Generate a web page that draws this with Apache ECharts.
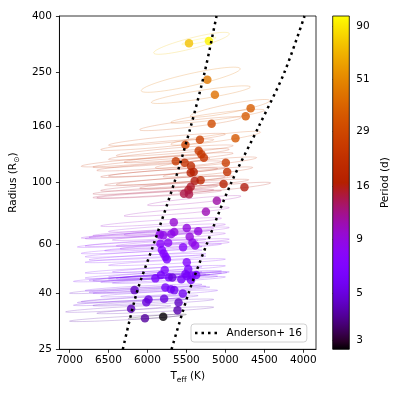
<!DOCTYPE html>
<html>
<head>
<meta charset="utf-8">
<title>Cepheid radius vs Teff</title>
<script src="https://cdn.jsdelivr.net/npm/echarts@6/dist/echarts.min.js"></script>
</head>
<body style="margin:0;background:#fff">
<div id="main" style="width:399px;height:399px"></div>
<script type="text/javascript">
// mean position of each star: Teff (K), radius (Rsun), period (d)
var starTeff = [5467, 5212, 5232, 5135, 4676, 4740, 5177, 4871, 5327, 5513,
    5343, 5309, 5276, 5636, 5522, 4995, 5441, 4977, 5445, 5407,
    5318, 5394, 5024, 4756, 5445, 5474, 5531, 5467, 5110, 5250,
    5662, 5496, 5349, 5656, 5694, 5841, 5796, 5458, 5423, 5388,
    5735, 5834, 5543, 5815, 5793, 5768, 5751, 5496, 5477, 5779,
    5513, 5432, 5375, 5898, 5726, 5681, 5566, 5496, 5441, 6166,
    5770, 5700, 5656, 5786, 5547, 5601, 5614, 5798, 6032, 6210,
    5987, 6015, 5828];
var starRadius = [318.7, 324.9, 235.4, 207.9, 185.6, 173.7, 163.3, 144.7, 143.0, 137.1,
    130.5, 126.6, 123.1, 119.5, 118.1, 118.1, 114.9, 109.3, 108.6, 109.3,
    102.0, 101.4, 98.9, 96.2, 96.7, 94.1, 91.2, 90.8, 86.1, 78.5,
    72.0, 68.6, 66.8, 66.3, 65.3, 64.9, 64.6, 63.8, 60.8, 59.3,
    60.7, 60.2, 58.4, 57.1, 55.5, 54.0, 52.9, 51.6, 48.8, 48.4,
    46.8, 46.2, 46.4, 45.1, 45.5, 45.4, 44.8, 46.0, 44.5, 40.9,
    41.8, 41.2, 40.9, 38.1, 39.8, 36.9, 34.6, 32.8, 32.4, 35.0,
    37.8, 37.0, 46.4];
var starPeriod = [73, 95, 45, 42, 36, 35, 30, 34, 27, 28,
    25, 24, 23, 24, 22, 25, 20, 22, 17, 17,
    19, 16, 17, 16, 15, 15, 14, 14, 11, 10.5,
    9.5, 9, 9, 9, 8.5, 8.5, 8.5, 9, 8.5, 8.5,
    8, 7.5, 7.5, 7, 7, 7, 6.5, 7, 6.5, 6.5,
    6, 6, 6, 6, 6, 5, 6, 6, 6, 4.5,
    6, 6, 5.5, 5, 5.5, 4.5, 4.2, 2.75, 4, 4.3,
    5, 5, 6];

// pulsation loop of each star: hot end, cool end (K), half height (dex)
var loopHot = [5920, 5560, 6080, 5950, 5450, 5700, 6100, 5700, 6500, 6600,
    6400, 6500, 6300, 6850, 6700, 5900, 6650, 5800, 6600, 6500,
    6400, 6550, 6100, 5600, 6600, 6700, 6700, 6650, 6000, 6300,
    6600, 6500, 6300, 6700, 6750, 6850, 6800, 6450, 6400, 6350,
    6800, 6900, 6550, 6850, 6800, 6750, 6800, 6500, 6450, 6800,
    6500, 6400, 6350, 6950, 6750, 6700, 6600, 6500, 6450, 7000,
    6800, 6750, 6700, 6850, 6600, 6700, 6650, 6250, 7000, 7050,
    6900, 6950, 6800];
var loopCool = [4950, 5120, 4810, 4680, 4430, 4500, 4800, 4550, 5000, 5150,
    4900, 4950, 4900, 5300, 5200, 4600, 5050, 4650, 5100, 5000,
    4900, 5000, 4700, 4420, 5050, 5100, 5150, 5050, 4800, 4950,
    5050, 5000, 4950, 5150, 5200, 5350, 5300, 5000, 4950, 4950,
    5250, 5350, 5050, 5300, 5300, 5250, 5250, 5000, 5000, 5300,
    5050, 4980, 4950, 5400, 5250, 5200, 5100, 5050, 5000, 5650,
    5300, 5250, 5200, 5350, 5100, 5150, 5150, 5500, 5550, 5700,
    5500, 5500, 5300];
var loopDex = [0.035, 0.012, 0.04, 0.028, 0.028, 0.022, 0.022, 0.022, 0.02, 0.018,
    0.018, 0.018, 0.016, 0.018, 0.016, 0.018, 0.016, 0.016, 0.015, 0.015,
    0.015, 0.015, 0.015, 0.016, 0.014, 0.014, 0.014, 0.013, 0.016, 0.015,
    0.014, 0.013, 0.013, 0.013, 0.012, 0.012, 0.012, 0.012, 0.012, 0.012,
    0.012, 0.012, 0.012, 0.012, 0.012, 0.011, 0.011, 0.011, 0.011, 0.011,
    0.011, 0.011, 0.011, 0.011, 0.011, 0.011, 0.011, 0.011, 0.011, 0.011,
    0.011, 0.011, 0.011, 0.011, 0.011, 0.011, 0.011, 0.008, 0.011, 0.011,
    0.011, 0.011, 0.011];

// Anderson+ 16 instability strip edges
var edgeRadius = [25, 40, 60, 100, 160, 250, 400];
var blueEdgeTeff = [6316, 6138, 5920, 5656, 5443, 5267, 5114];
var redEdgeTeff = [5691, 5471, 5239, 4925, 4570, 4244, 3985];

var teffTicks = [4000, 4500, 5000, 5500, 6000, 6500, 7000];
var radiusTicks = [25, 40, 60, 100, 160, 250, 400];
var periodTicks = [3, 5, 9, 16, 29, 51, 90];
var periodMin = 2.72, periodMax = 101;

var lg = Math.log10;
var font = 'DejaVu Sans';

// matplotlib gnuplot colormap
function gnuplot(t) {
    var r = Math.sqrt(t), g = t * t * t, b = Math.max(0, Math.sin(2 * Math.PI * t));
    return 'rgb(' + Math.round(255 * r) + ',' + Math.round(255 * g) + ',' + Math.round(255 * b) + ')';
}
var cmap = [], stops = [];
for (var k = 0; k <= 40; k++) {
    cmap.push(gnuplot(k / 40));
    stops.push({offset: 1 - k / 40, color: gnuplot(k / 40)});
}

var points = starTeff.map(function (t, i) {
    return [t, lg(starRadius[i]), lg(starPeriod[i])];
});
var loops = starTeff.map(function (t, i) {
    return [loopHot[i], loopCool[i], lg(starRadius[i]), loopDex[i], lg(starPeriod[i])];
});
var blueEdge = edgeRadius.map(function (r, i) { return [blueEdgeTeff[i], lg(r)]; });
var redEdge = edgeRadius.map(function (r, i) { return [redEdgeTeff[i], lg(r)]; });

function renderLoop(params, api) {
    var y = api.value(2), d = api.value(3);
    var a = api.coord([api.value(0), y - d]);
    var b = api.coord([api.value(1), y + d]);
    var h = Math.abs(api.coord([5000, y])[1] - api.coord([5000, y + d])[1]);
    var dx = b[0] - a[0], dy = b[1] - a[1];
    return {
        type: 'ellipse',
        x: (a[0] + b[0]) / 2,
        y: (a[1] + b[1]) / 2,
        rotation: -Math.atan2(dy, dx),
        shape: {cx: 0, cy: 0, rx: Math.sqrt(dx * dx + dy * dy) / 2, ry: h * 0.55},
        style: {fill: null, stroke: api.visual('color'), lineWidth: 0.9, opacity: 0.24}
    };
}

function renderBar(params, api) {
    var p0 = api.coord([0, lg(periodMax)]);
    var p1 = api.coord([1, lg(periodMin)]);
    return {
        type: 'rect',
        shape: {x: p0[0], y: p0[1], width: p1[0] - p0[0], height: p1[1] - p0[1]},
        style: {
            fill: new echarts.graphic.LinearGradient(0, 0, 0, 1, stops),
            stroke: '#000', lineWidth: 0.8
        }
    };
}

function plain(v) { return String(Math.round(v)); }
function unlog(v) { return String(Math.round(Math.pow(10, v))); }

var tickLabel = {color: '#000', fontFamily: font, fontSize: 10.5};
var nameRich = {
    n: {fontFamily: font, fontSize: 10.5, color: '#000', verticalAlign: 'top'},
    sub: {fontFamily: font, fontSize: 7.5, color: '#000', verticalAlign: 'top', padding: [5, 0, 0, 0]}
};
// four square dots for the legend key
var dotsIcon = 'path://M0,0h2.5v2.5h-2.5z M6.5,0h2.5v2.5h-2.5z M13,0h2.5v2.5h-2.5z M19.5,0h2.5v2.5h-2.5z';

var myChart = echarts.init(document.getElementById('main'));
var option = {
    animation: false,
    textStyle: {fontFamily: font},
    grid: [
        {left: 58, top: 16, width: 258, height: 333.3, show: true, borderColor: '#000', borderWidth: 0.8},
        {left: 332.7, top: 16, width: 16.6, height: 333.3}
    ],
    xAxis: [{
        type: 'value', inverse: true, min: 3838, max: 7129,
        name: '{n|T}{sub|eff}{n| (K)}', nameLocation: 'middle', nameGap: 21,
        nameTextStyle: {rich: nameRich},
        axisLine: {lineStyle: {color: '#000', width: 0.8}},
        axisTick: {length: 3.5, lineStyle: {color: '#000', width: 0.8}, customValues: teffTicks},
        axisLabel: Object.assign({margin: 5.5, customValues: teffTicks, formatter: plain}, tickLabel),
        splitLine: {show: false}
    }, {
        gridIndex: 1, type: 'value', min: 0, max: 1, show: false
    }],
    yAxis: [{
        type: 'value', min: lg(25), max: lg(400),
        name: '{n|Radius (R}{sub|⊙}{n|)}', nameLocation: 'middle', nameGap: 31, nameRotate: 90,
        nameTextStyle: {rich: nameRich},
        axisLine: {lineStyle: {color: '#000', width: 0.8}},
        axisTick: {length: 3.5, lineStyle: {color: '#000', width: 0.8}, customValues: radiusTicks.map(lg)},
        axisLabel: Object.assign({margin: 7.5, customValues: radiusTicks.map(lg), formatter: unlog}, tickLabel),
        splitLine: {show: false}
    }, {
        gridIndex: 1, type: 'value', position: 'right',
        min: lg(periodMin), max: lg(periodMax),
        name: 'Period (d)', nameLocation: 'middle', nameGap: 30, nameRotate: 90,
        nameTextStyle: {color: '#000', fontFamily: font, fontSize: 10.5},
        axisLine: {show: false},
        axisTick: {length: 3.5, lineStyle: {color: '#000', width: 0.8}, customValues: periodTicks.map(lg)},
        axisLabel: Object.assign({margin: 7, customValues: periodTicks.map(lg), formatter: unlog}, tickLabel),
        splitLine: {show: false}
    }],
    visualMap: [
        {type: 'continuous', show: false, seriesIndex: 0, dimension: 4,
            min: lg(periodMin), max: lg(periodMax), inRange: {color: cmap}},
        {type: 'continuous', show: false, seriesIndex: 1, dimension: 2,
            min: lg(periodMin), max: lg(periodMax), inRange: {color: cmap}}
    ],
    legend: {
        data: [{name: 'Anderson+ 16', icon: dotsIcon}], left: 191, top: 324,
        padding: [3.5, 5, 3.5, 4], itemWidth: 22, itemHeight: 2.5,
        itemStyle: {color: '#000'},
        backgroundColor: 'rgba(255,255,255,0.8)', borderColor: '#d0d0d0', borderWidth: 1, borderRadius: 3,
        textStyle: {color: '#000', fontFamily: font, fontSize: 10.5, padding: [0, 0, 0, 4.5]}
    },
    series: [{
        type: 'custom', renderItem: renderLoop, data: loops, z: 1, silent: true
    }, {
        type: 'scatter', data: points, symbolSize: 8.5, z: 3
    }, {
        name: 'Anderson+ 16', type: 'line', data: blueEdge, symbol: 'none', smooth: 0.3, z: 4,
        color: '#000', lineStyle: {color: '#000', width: 2.5, type: [2.5, 4]}
    }, {
        name: 'Anderson+ 16', type: 'line', data: redEdge, symbol: 'none', smooth: 0.3, z: 4,
        color: '#000', lineStyle: {color: '#000', width: 2.5, type: [2.5, 4]}
    }, {
        type: 'custom', xAxisIndex: 1, yAxisIndex: 1, renderItem: renderBar, data: [[0]], silent: true
    }]
};
myChart.setOption(option);
</script>
</body>
</html>
